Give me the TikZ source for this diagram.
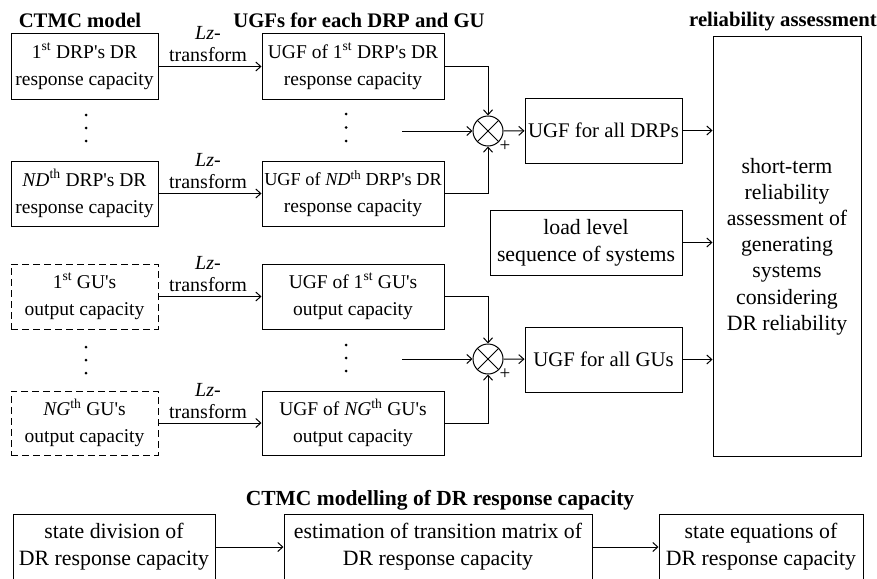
\documentclass[tikz,border=0pt]{standalone}
\usepackage{fontspec}
\setmainfont{Liberation Serif}[Ligatures=TeXOff]
\usetikzlibrary{arrows.meta,calc}
\begin{document}
\begin{tikzpicture}[x=1pt,y=-1pt,
  every node/.style={font=\fontsize{19.5}{27}\selectfont},
  box/.style={draw,line width=1pt,inner sep=0pt,align=center},
  bigtext/.style={font=\fontsize{21.8}{27}\selectfont},
  midtext/.style={font=\fontsize{20.8}{27}\selectfont},
  dbox/.style={box,dash pattern=on 7pt off 4pt},
  title/.style={font=\fontsize{20.7}{25}\selectfont\bfseries,inner sep=0pt},
  lz/.style={font=\fontsize{20}{22}\selectfont,align=center,inner sep=0pt},
  conn/.style={line width=1pt},
  arr/.style={conn,-{Straight Barb[length=5pt,width=9pt]}},
  mult/.style={draw,circle,line width=1pt,minimum size=30pt,inner sep=0pt},
  dotm/.style={fill,circle,inner sep=0pt,minimum size=3pt}
]
\useasboundingbox (0,0) rectangle (877,578);
\clip (0,0) rectangle (877,578);

% titles
\node[title] (t1) at (80,20) {CTMC model};
\node[title] (t2) at (359,20) {UGFs for each DRP and GU};
\node[title] (t3) at (783,22) {reliability assessment};
\node[title,font=\fontsize{21.5}{25}\selectfont\bfseries] (t4) at (440,500) {CTMC modelling of DR response capacity};

% left column
\node[box,minimum width=147pt,minimum height=65pt] (d1) at (84.5,66.5) {1\textsuperscript{st} DRP's DR\\response capacity};
\node[box,minimum width=147pt,minimum height=65pt] (dn) at (84.5,193.5) {\textit{ND}\textsuperscript{th} DRP's DR\\response capacity};
\node[dbox,minimum width=147pt,minimum height=65pt] (g1) at (84.5,296.5) {1\textsuperscript{st} GU's\\output capacity};
\node[dbox,minimum width=147pt,minimum height=64pt] (gn) at (84.5,423) {\textit{NG}\textsuperscript{th} GU's\\output capacity};

% UGF column
\node[box,minimum width=182pt,minimum height=65pt] (u1) at (353,66.5) {UGF of 1\textsuperscript{st} DRP's DR\\response capacity};
\node[box,minimum width=182pt,minimum height=65pt] (un) at (353,193.5) {{\fontsize{18.3}{27}\selectfont UGF of \textit{ND}\textsuperscript{th} DRP's DR}\\response capacity};
\node[box,minimum width=182pt,minimum height=65pt] (v1) at (353,296.5) {UGF of 1\textsuperscript{st} GU's\\output capacity};
\node[box,minimum width=182pt,minimum height=64pt] (vn) at (353,423) {UGF of \textit{NG}\textsuperscript{th} GU's\\output capacity};

% dots
\foreach \n/\x/\y in {a1/86/115,a2/86/128,a3/86/141,b1/86/347,b2/86/360,b3/86/373,
  c1/346/114,c2/346/127.5,c3/346/141,e1/346/345,e2/346/358,e3/346/371}
  \node[dotm] (\n) at (\x,\y) {};

% Lz labels
\node[lz] (l1) at (208,44) {\textit{Lz}-\\transform};
\node[lz] (l2) at (208,171) {\textit{Lz}-\\transform};
\node[lz] (l3) at (208,274) {\textit{Lz}-\\transform};
\node[lz] (l4) at (208,401) {\textit{Lz}-\\transform};

\draw[arr] (d1) -- (u1);
\draw[arr] (dn) -- (un);
\draw[arr] (g1) -- (v1);
\draw[arr] (gn) -- (vn);

% multipliers
\node[mult] (m1) at (488,131) {};
\node[mult] (m2) at (488,359) {};
\foreach \m in {m1,m2}{
  \draw[conn] ($(\m)+(-10.6,-10.6)$) -- ($(\m)+(10.6,10.6)$);
  \draw[conn] ($(\m)+(-10.6,10.6)$) -- ($(\m)+(10.6,-10.6)$);
}
\node[font=\fontsize{19}{19}\selectfont,inner sep=0pt] (p1) at (505,146) {+};
\node[font=\fontsize{19}{19}\selectfont,inner sep=0pt] (p2) at (505,374) {+};

\coordinate (i1) at (402,131);
\coordinate (i2) at (402,359);
\draw[arr] (i1) -- (m1);
\draw[arr] (i2) -- (m2);
\draw[arr] (u1.east) -| (m1.north);
\draw[arr] (un.east) -| (m1.south);
\draw[arr] (v1.east) -| (m2.north);
\draw[arr] (vn.east) -| (m2.south);

% combined
\node[box,midtext,minimum width=157pt,minimum height=65pt] (ad) at (603.5,130.5) {UGF for all DRPs};
\node[box,midtext,minimum width=157pt,minimum height=65pt] (ag) at (603.5,359.5) {UGF for all GUs};
\node[box,bigtext,minimum width=192pt,minimum height=65pt] (ll) at (586,242.5) {load level\\sequence of systems};
\draw[arr] (m1) -- (ad);
\draw[arr] (m2) -- (ag);

\node[box,minimum width=148pt,minimum height=419pt,font=\fontsize{21.8}{26.2}\selectfont] (big) at (787,246.5) {short-term\\reliability\\assessment of\\generating\\systems\\considering\\DR reliability};
\draw[arr] (ad.east) -- (ad.east -| big.west);
\draw[arr] (ll.east) -- (ll.east -| big.west);
\draw[arr] (ag.east) -- (ag.east -| big.west);

% bottom row
\node[box,bigtext,minimum width=202pt,minimum height=66pt] (s1) at (114,547) {state division of\\DR response capacity};
\node[box,bigtext,minimum width=308pt,minimum height=66pt] (s2) at (438,547) {estimation of transition matrix of\\DR response capacity};
\node[box,bigtext,minimum width=204pt,minimum height=66pt] (s3) at (761,547) {state equations of\\DR response capacity};
\draw[arr] (s1) -- (s2);
\draw[arr] (s2) -- (s3);
\end{tikzpicture}
\end{document}
